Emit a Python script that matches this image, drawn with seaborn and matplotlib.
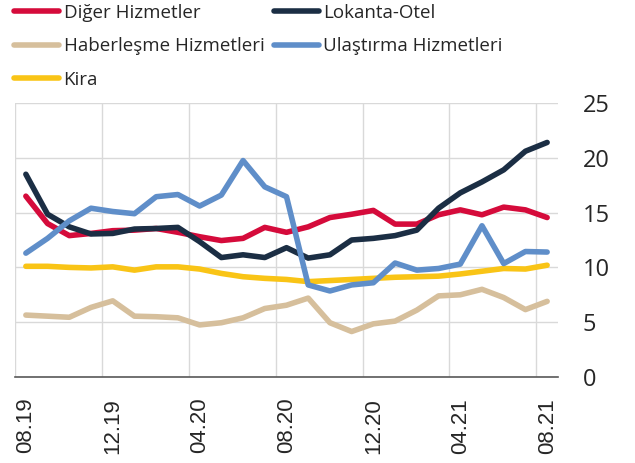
import numpy as np
import pandas as pd
import seaborn as sns
import matplotlib.pyplot as plt

months = ['08.19', '09.19', '10.19', '11.19', '12.19', '01.20', '02.20', '03.20',
          '04.20', '05.20', '06.20', '07.20', '08.20', '09.20', '10.20', '11.20',
          '12.20', '01.21', '02.21', '03.21', '04.21', '05.21', '06.21', '07.21', '08.21']

diger = [16.5, 14.0, 12.9, 13.1, 13.35, 13.4, 13.55, 13.2, 12.8, 12.45, 12.65, 13.65, 13.2,
         13.7, 14.55, 14.85, 15.2, 13.95, 13.95, 14.8, 15.25, 14.8, 15.5, 15.25, 14.55]
lokanta = [18.5, 14.85, 13.7, 13.05, 13.1, 13.5, 13.55, 13.65, 12.35, 10.9, 11.15, 10.9, 11.8,
           10.85, 11.15, 12.5, 12.65, 12.9, 13.4, 15.4, 16.8, 17.8, 18.9, 20.6, 21.4]
haberlesme = [5.65, 5.55, 5.45, 6.35, 6.95, 5.55, 5.5, 5.4, 4.75, 4.95, 5.4, 6.25, 6.55,
              7.2, 4.95, 4.15, 4.85, 5.1, 6.1, 7.4, 7.5, 8.0, 7.25, 6.15, 6.9]
ulastirma = [11.3, 12.65, 14.25, 15.4, 15.1, 14.9, 16.45, 16.65, 15.6, 16.6, 19.75, 17.35, 16.45,
             8.4, 7.85, 8.4, 8.6, 10.4, 9.75, 9.9, 10.3, 13.8, 10.35, 11.45, 11.4]
kira = [10.1, 10.1, 10.0, 9.95, 10.05, 9.75, 10.05, 10.05, 9.85, 9.45, 9.15, 9.0, 8.9,
        8.7, 8.8, 8.9, 9.0, 9.1, 9.15, 9.2, 9.4, 9.65, 9.9, 9.85, 10.2]

series = ['Diğer Hizmetler', 'Haberleşme Hizmetleri', 'Kira', 'Lokanta-Otel', 'Ulaştırma Hizmetleri']
values = [diger, haberlesme, kira, lokanta, ulastirma]
colors = ['#d50b3b', '#d6bf9c', '#f9c416', '#1b2e44', '#5f8ec9']

df = pd.DataFrame({
    'x': np.tile(np.arange(len(months)), len(series)),
    'seri': np.repeat(series, len(months)),
    'deger': np.concatenate(values),
})

sns.set_style('white')
plt.rcParams['font.family'] = ['Open Sans', 'DejaVu Sans']

fig = plt.figure(figsize=(6.35, 4.63), dpi=100)
ax = fig.add_axes([15/635, 1-377/463, 543/635, 274/463])

sns.lineplot(data=df, x='x', y='deger', hue='seri', hue_order=series,
             palette=colors, linewidth=4, ax=ax, legend=False)

ax.set_xlim(-0.5, 24.5)
ax.set_ylim(0, 25)
ax.set_xlabel('')
ax.set_ylabel('')

# gridlines sit between months, labels on the months
ax.set_xticks(np.arange(-0.5, 24, 4), minor=False)
ax.set_xticklabels([])
ax.set_xticks(np.arange(0, 25, 4), minor=True)
ax.set_xticklabels(months[::4], minor=True, rotation=90, fontsize=16, family='Liberation Sans')
ax.tick_params(axis='x', which='both', length=0, pad=15)
ax.grid(axis='x', which='major', color='#d9d9d9', linewidth=1)

ax.set_yticks([0, 5, 10, 15, 20, 25])
ax.yaxis.tick_right()
ax.tick_params(axis='y', length=0, pad=18, labelsize=17)
ax.grid(axis='y', color='#d9d9d9', linewidth=1)

for s in ['top', 'right', 'left']:
    ax.spines[s].set_visible(False)
ax.spines['bottom'].set_color('#595959')
ax.spines['bottom'].set_linewidth(1.2)

handles = [plt.Line2D([], [], color=c, linewidth=4, solid_capstyle='round') for c in colors]
fig.legend(handles, series, loc='upper left', bbox_to_anchor=(0.007, 1.012), ncol=2,
           frameon=False, fontsize=13.5, handlelength=2.4, handletextpad=0.25,
           columnspacing=0.5, labelspacing=0.82, borderpad=0)

fig.savefig('out.png', dpi=100)
